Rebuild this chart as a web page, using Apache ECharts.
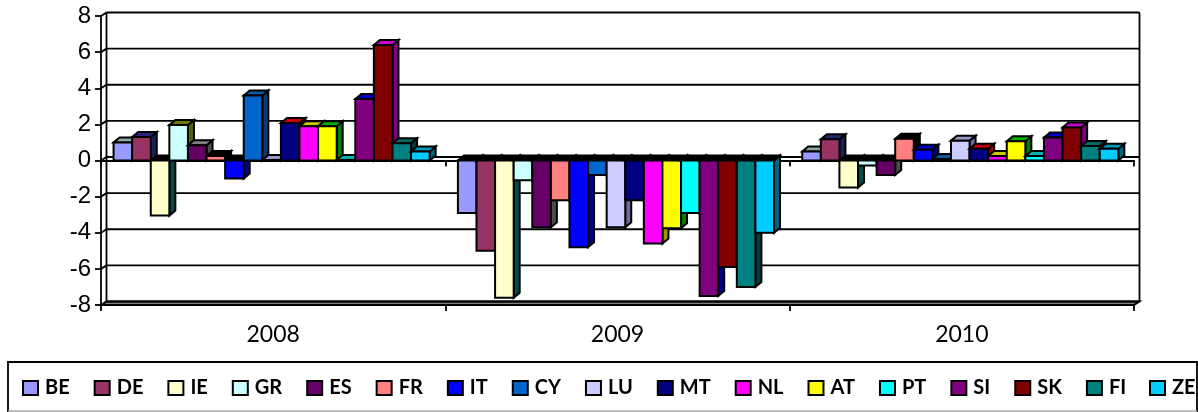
<!DOCTYPE html>
<html><head><meta charset="utf-8">
<style>html,body{margin:0;padding:0;background:#fff}#c{width:1198px;height:412px}</style>
<script src="https://cdn.jsdelivr.net/npm/echarts@6/dist/echarts.min.js"></script>
</head><body><div id="c"></div>
<script>
const categories = ['2008','2009','2010'];
const yTicks = [-8,-6,-4,-2,0,2,4,6,8];
const BE = [1.0,-2.9,0.5];
const DE = [1.3,-5.0,1.17];
const IE = [-3.05,-7.6,-1.5];
const GR = [1.97,-1.1,-0.28];
const ES = [0.85,-3.7,-0.8];
const FR = [0.25,-2.2,1.2];
const IT = [-1.0,-4.8,0.6];
const CY = [3.6,-0.8,0.08];
const LU = [0.03,-3.7,1.1];
const MT = [2.07,-2.2,0.65];
const NL = [1.9,-4.6,0.25];
const AT = [1.9,-3.75,1.07];
const PT = [0.03,-2.9,0.25];
const SI = [3.4,-7.5,1.27];
const SK = [6.4,-5.9,1.83];
const FI = [0.95,-7.0,0.8];
const ZE = [0.5,-4.0,0.65];
const names = ['BE','DE','IE','GR','ES','FR','IT','CY','LU','MT','NL','AT','PT','SI','SK','FI','ZE'];
const values = [BE,DE,IE,GR,ES,FR,IT,CY,LU,MT,NL,AT,PT,SI,SK,FI,ZE];
const frontColors = ['#9999FF','#993366','#FFFFCC','#CCFFFF','#660066','#FF8080','#0000FF','#0066CC','#CCCCFF','#000080','#FF00FF','#FFFF00','#00FFFF','#800080','#800000','#008080','#00CCFF'];
const topColors = ['#8FA6A6','#262673','#6B7A00','#6B7A00','#808080','#000000','#0000C0','#0A5A99','#9999CC','#CC0000','#C8C800','#00B300','#00B3B3','#0000CC','#CC00CC','#006666','#0099BB'];
const sideColors = ['#5F7F7F','#1F1F5C','#004D4D','#4D6600','#4D4D4D','#000000','#000080','#0A3D6B','#6B6B99','#990000','#999900','#008000','#007F7F','#000080','#800080','#003F3F','#006680'];

const DX = 6, DY = 5, WX = 5.5, WY = 3.5;
const STROKE = {stroke:'#000', lineWidth:2, lineJoin:'miter'};

function barItem(idx){
  return function(params, api){
    const band = api.size([1,0])[0];
    const w = band*0.918/17;
    const c = api.coord([api.value(0), api.value(1)]);
    const z = api.coord([api.value(0), 0]);
    const l = z[0] - band*0.4635 + idx*w, r = l + w;
    const y0 = z[1], yv = c[1], yt = Math.min(y0,yv), yb = Math.max(y0,yv);
    const poly = (pts, fill) => ({type:'polygon', shape:{points:pts}, style:Object.assign({fill}, STROKE)});
    const topFill = api.value(1) < 0 ? '#000000' : topColors[idx];
    return {type:'group', children:[
      poly([[r,yt],[r+DX,yt-DY],[r+DX,yb-DY],[r,yb]], sideColors[idx]),
      poly([[l,yt],[l+DX,yt-DY],[r+DX,yt-DY],[r,yt]], topFill),
      poly([[l,yt],[r,yt],[r,yb],[l,yb]], frontColors[idx])
    ]};
  };
}
function wallItem(params, api){
  const cs = params.coordSys;
  const p = api.coord([0, api.value(0)]);
  const x0 = cs.x, x1 = cs.x + cs.width, y = p[1];
  const line = (a,b,c,d,lw) => ({type:'line', shape:{x1:a,y1:b,x2:c,y2:d}, style:{stroke:'#000', lineWidth:lw||1.8}});
  const kids = [line(x0+WX,y-WY,x1+WX,y-WY), line(x0,y,x0+WX,y-WY)];
  if (api.value(0) === yTicks[0]) {
    kids.unshift({type:'polygon', shape:{points:[[x0,y],[x1,y],[x1+WX,y-WY],[x0+WX,y-WY]]}, style:{fill:'#808080', stroke:'#000', lineWidth:1.8}});
    kids.push(line(x0+WX,cs.y-WY,x0+WX,cs.y+cs.height-WY), line(x1+WX,cs.y-WY,x1+WX,cs.y+cs.height-WY));
  }
  return {type:'group', children:kids};
}

const series = [{
  type:'custom', name:'wall', silent:true, z:1, renderItem:wallItem, clip:false,
  data:yTicks.map(v=>[v]), encode:{y:0}, coordinateSystem:'cartesian2d', xAxisIndex:0, yAxisIndex:0
}].concat(names.map((n,i)=>({
  type:'custom', name:n, z:3+i, renderItem:barItem(i), clip:false,
  coordinateSystem:'cartesian2d', xAxisIndex:0, yAxisIndex:0,
  itemStyle:{color:frontColors[i], borderColor:'#000', borderWidth:1.8},
  encode:{x:0,y:1},
  data:values[i].map((v,k)=>[k,v])
})));

const legendBase = {show:true, top:378, orient:'horizontal', itemGap:24, itemWidth:15, itemHeight:14,
    icon:'rect', selectedMode:false, padding:0,
    textStyle:{fontFamily:'Lato', fontWeight:'bold', fontSize:20, color:'#000', padding:[0,0,0,2]}};

const chart = echarts.init(document.getElementById('c'), null, {renderer:'canvas'});
chart.setOption({
  animation:false,
  backgroundColor:'#fff',
  grid:{left:101, right:64, top:16, bottom:107, containLabel:false},
  xAxis:[
    {type:'category', data:categories, boundaryGap:true,
      axisLine:{onZero:true, lineStyle:{color:'#000', width:1.8}},
      axisTick:{show:true, length:6, alignWithLabel:false, lineStyle:{color:'#000', width:1.8}},
      axisLabel:{show:false}, splitLine:{show:false}},
    {type:'category', data:categories, boundaryGap:true, position:'bottom',
      axisLine:{onZero:false, show:true, lineStyle:{color:'#000', width:1.8}},
      axisTick:{show:true, length:6, lineStyle:{color:'#000', width:1.8}},
      axisLabel:{show:true, color:'#000', fontFamily:'Lato', fontSize:23, margin:18}, splitLine:{show:false}}
  ],
  yAxis:{type:'value', min:-8, max:8, interval:2,
    axisLine:{show:true, onZero:false, lineStyle:{color:'#000', width:1.8}},
    axisTick:{show:true, length:6, lineStyle:{color:'#000', width:1.8}},
    axisLabel:{color:'#000', fontFamily:'Liberation Sans', fontSize:24, margin:10},
    splitLine:{show:false}},
  legend:[
    Object.assign({}, legendBase, {left:22, width:1120, data:names.slice(0,16)}),
    Object.assign({}, legendBase, {left:1149, data:names.slice(16)})
  ],
  graphic:[
    {type:'rect', silent:true, z:-1, shape:{x:8,y:362,width:1189,height:60}, style:{fill:'#fff', stroke:'#000', lineWidth:1.8}},
    {type:'line', silent:true, z:-1, shape:{x1:8,y1:411,x2:1197,y2:411}, style:{stroke:'#AAA', lineWidth:1.5}}
  ],
  series
});
</script></body></html>
